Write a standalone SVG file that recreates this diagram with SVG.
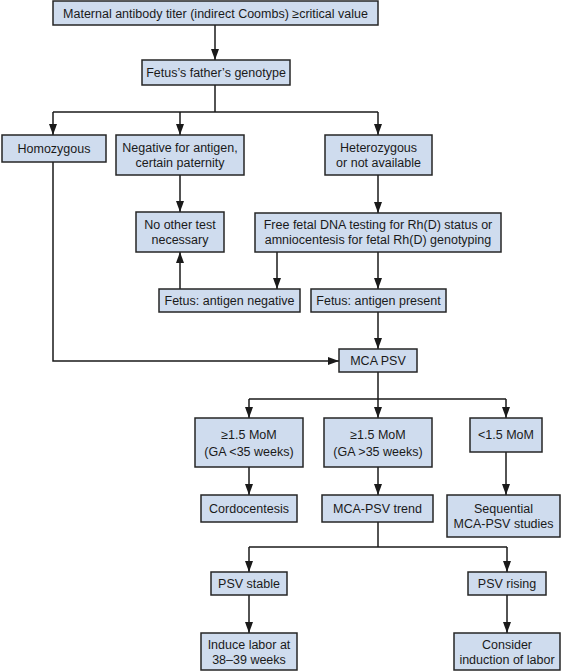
<svg xmlns="http://www.w3.org/2000/svg" width="567" height="671" viewBox="0 0 567 671">
<style>
.box{fill:#cfdcee;stroke:#262626;stroke-width:1.5}
text{font-family:"Liberation Sans",Arial,sans-serif;font-size:12.5px;fill:#1a1a1a;text-anchor:middle}
.c{fill:none;stroke:#1a1a1a;stroke-width:1.5}
</style>
<defs>
<marker id="ah" markerUnits="userSpaceOnUse" viewBox="0 0 11 8" refX="11" refY="4" markerWidth="11" markerHeight="8" orient="auto">
<path d="M0,0 L11,4 L0,8 z" fill="#1a1a1a"/>
</marker>
</defs>
<rect width="567" height="671" fill="#ffffff"/>
<g id="connectors">
<path class="c" d="M215,25 V60" marker-end="url(#ah)"/>
<path class="c" d="M215,85 V112"/>
<path class="c" d="M53,112 H378"/>
<path class="c" d="M53,112 V135" marker-end="url(#ah)"/>
<path class="c" d="M180,112 V135" marker-end="url(#ah)"/>
<path class="c" d="M378,112 V135" marker-end="url(#ah)"/>
<path class="c" d="M180,175 V212" marker-end="url(#ah)"/>
<path class="c" d="M378,175 V213" marker-end="url(#ah)"/>
<path class="c" d="M277,252 V289" marker-end="url(#ah)"/>
<path class="c" d="M378,252 V289" marker-end="url(#ah)"/>
<path class="c" d="M180,289 V252" marker-end="url(#ah)"/>
<path class="c" d="M378,312 V349" marker-end="url(#ah)"/>
<path class="c" d="M53,162 V361 H339" marker-end="url(#ah)"/>
<path class="c" d="M378,372 V399"/>
<path class="c" d="M249,399 H506"/>
<path class="c" d="M249,399 V418" marker-end="url(#ah)"/>
<path class="c" d="M378,399 V418" marker-end="url(#ah)"/>
<path class="c" d="M506,399 V418" marker-end="url(#ah)"/>
<path class="c" d="M249,467 V495" marker-end="url(#ah)"/>
<path class="c" d="M378,467 V495" marker-end="url(#ah)"/>
<path class="c" d="M506,452 V495" marker-end="url(#ah)"/>
<path class="c" d="M378,522 V547"/>
<path class="c" d="M249,547 H507"/>
<path class="c" d="M249,547 V572" marker-end="url(#ah)"/>
<path class="c" d="M507,547 V572" marker-end="url(#ah)"/>
<path class="c" d="M249,595 V633" marker-end="url(#ah)"/>
<path class="c" d="M507,595 V633" marker-end="url(#ah)"/>
</g>
<g id="n1"><rect class="box" x="53" y="1" width="325" height="24"/><text x="215.5" y="17.5">Maternal antibody titer (indirect Coombs) ≥critical value</text></g>
<g id="n2"><rect class="box" x="142" y="60" width="148" height="25"/><text x="216" y="77">Fetus’s father’s genotype</text></g>
<g id="n3"><rect class="box" x="2" y="135" width="104" height="27"/><text x="54" y="153">Homozygous</text></g>
<g id="n4"><rect class="box" x="116" y="135" width="128" height="40"/><text x="180" y="152">Negative for antigen,</text><text x="180" y="167">certain paternity</text></g>
<g id="n5"><rect class="box" x="325" y="135" width="107" height="40"/><text x="378.5" y="152">Heterozygous</text><text x="378.5" y="167">or not available</text></g>
<g id="n6"><rect class="box" x="136" y="212" width="88" height="40"/><text x="180" y="229">No other test</text><text x="180" y="244">necessary</text></g>
<g id="n7"><rect class="box" x="255" y="213" width="246" height="39"/><text x="378" y="229">Free fetal DNA testing for Rh(D) status or</text><text x="378" y="244">amniocentesis for fetal Rh(D) genotyping</text></g>
<g id="n8"><rect class="box" x="159" y="289" width="141" height="23"/><text x="229.5" y="305">Fetus: antigen negative</text></g>
<g id="n9"><rect class="box" x="311" y="289" width="135" height="23"/><text x="378.5" y="305">Fetus: antigen present</text></g>
<g id="n10"><rect class="box" x="339" y="349" width="78" height="23"/><text x="378" y="365">MCA PSV</text></g>
<g id="n11"><rect class="box" x="195" y="418" width="108" height="49"/><text x="249" y="439">≥1.5 MoM</text><text x="249" y="456">(GA &lt;35 weeks)</text></g>
<g id="n12"><rect class="box" x="324" y="418" width="108" height="49"/><text x="378" y="439">≥1.5 MoM</text><text x="378" y="456">(GA &gt;35 weeks)</text></g>
<g id="n13"><rect class="box" x="470" y="418" width="72" height="34"/><text x="506" y="439">&lt;1.5 MoM</text></g>
<g id="n14"><rect class="box" x="201" y="495" width="96" height="27"/><text x="249" y="513">Cordocentesis</text></g>
<g id="n15"><rect class="box" x="322" y="495" width="111" height="27"/><text x="377.5" y="513">MCA-PSV trend</text></g>
<g id="n16"><rect class="box" x="447" y="495" width="113" height="42"/><text x="503.5" y="513">Sequential</text><text x="503.5" y="528">MCA-PSV studies</text></g>
<g id="n17"><rect class="box" x="211" y="572" width="76" height="23"/><text x="249" y="588">PSV stable</text></g>
<g id="n18"><rect class="box" x="468" y="572" width="78" height="23"/><text x="507" y="588">PSV rising</text></g>
<g id="n19"><rect class="box" x="201" y="633" width="96" height="37"/><text x="249" y="649">Induce labor at</text><text x="249" y="664">38–39 weeks</text></g>
<g id="n20"><rect class="box" x="454" y="633" width="106" height="37"/><text x="507" y="649">Consider</text><text x="507" y="664">induction of labor</text></g>
</svg>
